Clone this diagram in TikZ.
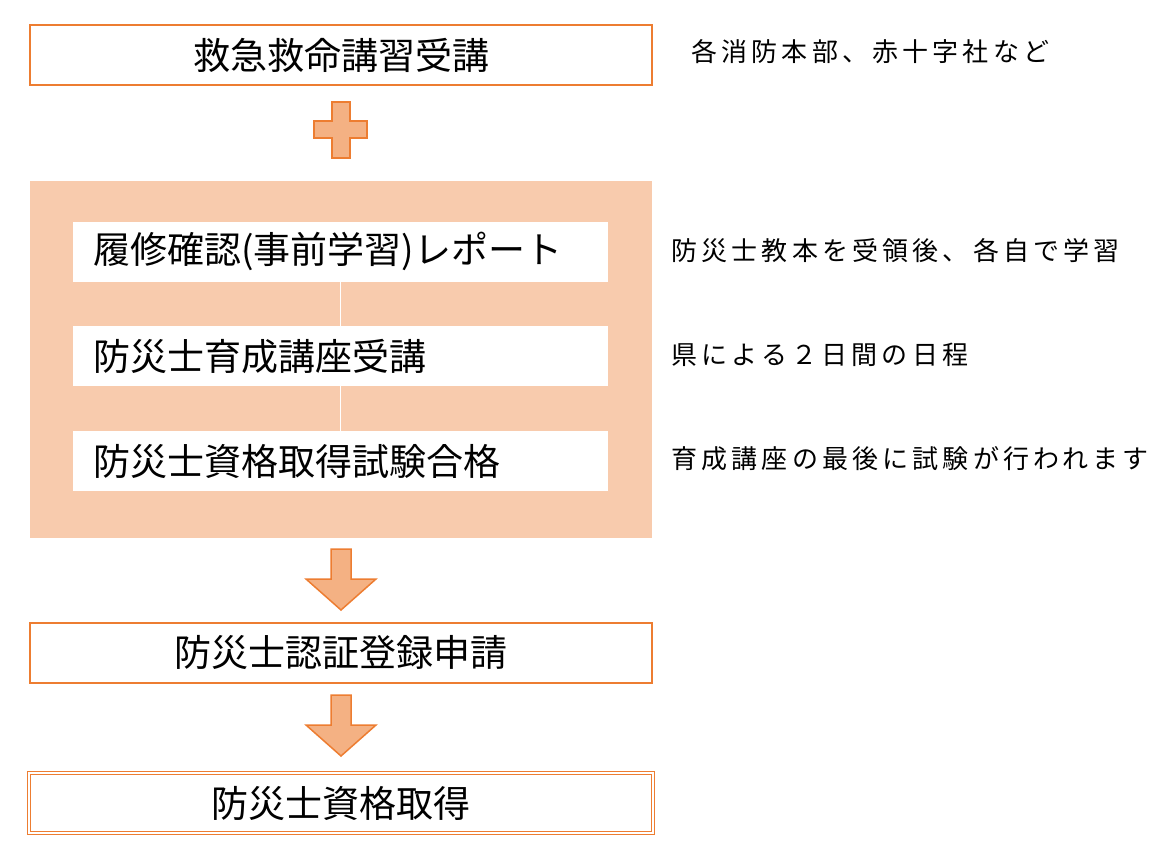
\documentclass[tikz,border=0pt]{standalone}
\usepackage{fontspec}
\setmainfont{Noto Sans CJK JP}
\usetikzlibrary{positioning}
\definecolor{edge}{HTML}{ED7D31}
\definecolor{panel}{HTML}{F8CBAD}
\definecolor{arrowfill}{HTML}{F4B183}
\tikzset{
  stepbox/.style={draw=edge,line width=2pt,fill=white,minimum width=622pt,minimum height=60pt,
    font=\fontsize{37}{44}\selectfont},
  innerbox/.style={fill=white,minimum width=535pt,minimum height=60pt,text width=495pt,
    align=left,font=\fontsize{37}{44}\selectfont},
  note/.style={anchor=west,font=\fontsize{26}{32}\selectfont\addfontfeature{LetterSpace=16}},
  downarrow/.style={draw=edge,line width=1.5pt,fill=arrowfill,line join=miter}
}
\begin{document}
\begin{tikzpicture}[x=1pt,y=-1pt]
  \useasboundingbox (0,0) rectangle (1156,859);
  % top step
  \node[stepbox] (lecture) at (341,55) {救急救命講習受講};
  \node[note] (lecturenote) at (688,52) {各消防本部、赤十字社など};
  % plus sign
  \draw[downarrow,fill=arrowfill] (332,102) -- (350,102) -- (350,121) -- (367,121) -- (367,138)
    -- (350,138) -- (350,158) -- (332,158) -- (332,138) -- (314,138) -- (314,121) -- (332,121) -- cycle;
  % shaded panel
  \fill[panel] (30,181) rectangle (652,538);
  \node[innerbox] (report) at (340.5,251.5) {履修確認(事前学習)レポート};
  \node[innerbox] (course) at (340.5,356) {防災士育成講座受講};
  \node[innerbox] (exam) at (340.5,461) {防災士資格取得試験合格};
  \draw[white,line width=1.5pt] (report) -- (course);
  \draw[white,line width=1.5pt] (course) -- (exam);
  \node[note] (reportnote) at (668,251) {防災士教本を受領後、各自で学習};
  \node[note] (coursenote) at (668,355) {県による２日間の日程};
  \node[note] (examnote) at (668,459) {育成講座の最後に試験が行われます};
  % arrows
  \draw[downarrow] (331,549) -- (351,549) -- (351,579) -- (376,579) -- (341,610) -- (306,579) -- (331,579) -- cycle;
  \node[stepbox] (apply) at (341,652.5) {防災士認証登録申請};
  \draw[downarrow] (331,695) -- (351,695) -- (351,725) -- (376,725) -- (341,756) -- (306,725) -- (331,725) -- cycle;
  \node[stepbox,double=white,double distance=2pt,line width=1.2pt,minimum width=624pt,minimum height=60pt] (qualified) at (341,803) {防災士資格取得};
\end{tikzpicture}
\end{document}
